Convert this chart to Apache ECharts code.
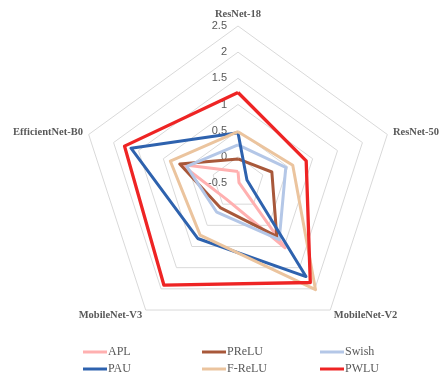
<!DOCTYPE html>
<html lang="en">
	<head>
		<meta charset="UTF-8" />
		<title>Radar</title>
		<style>
			html, body { margin: 0; padding: 0; background: #fff; }
		</style>
	</head>
	<body>
		<div id="main" style="width: 448px; height: 372px"></div>
		<script src="https://cdn.jsdelivr.net/npm/echarts@6/dist/echarts.min.js"></script>
		<script>
			// indicators, in the order echarts lays them out (counterclockwise from top)
			var models = ["ResNet-18", "EfficientNet-B0", "MobileNet-V3", "MobileNet-V2", "ResNet-50"];
			var seriesNames = ["APL", "PReLU", "Swish", "PAU", "F-ReLU", "PWLU"];
			var colors = ["#FFB0B0", "#A8583A", "#B4C7E7", "#2E62AE", "#EBC49E", "#EE2424"];

			// values per model, same order as models
			var apl = [-0.28, 0.64, -0.12, 1.03, -0.48];
			var prelu = [-0.04, 0.67, 0.08, 0.76, 0.18];
			var swish = [0.23, 0.53, 0.19, 0.84, 0.46];
			var pau = [0.46, 1.65, 0.81, 1.71, -0.32];
			var frelu = [0.48, 0.86, 0.73, 2.02, 0.6];
			var pwlu = [1.23, 1.78, 1.91, 1.85, 0.87];
			var allValues = [apl, prelu, swish, pau, frelu, pwlu];

			var axisMin = -0.5;
			var axisMax = 2.5;

			var myChart = echarts.init(document.getElementById("main"));

			var indicator = models.map(function (m, i) {
				var ind = { name: m, min: axisMin, max: axisMax };
				if (i === 0) {
					// only the top axis carries tick labels
					ind.axisLabel = {
						show: true,
						color: "#595959",
						fontSize: 11,
						fontFamily: "Liberation Sans",
						align: "right",
						margin: 11,
					};
				}
				return ind;
			});

			// legend: 3 columns x 2 rows, one legend per entry so columns line up
			var legendCols = [78, 197, 315];
			var legendRows = [341, 358];
			var legends = seriesNames.map(function (n, i) {
				return {
					left: legendCols[i % 3],
					top: legendRows[Math.floor(i / 3)],
					icon: "rect",
					itemWidth: 24,
					itemHeight: 3,
					data: [n],
					textStyle: {
						color: "#595959",
						fontSize: 12,
						fontFamily: "Liberation Serif",
						padding: [0, 0, 0, -4],
					},
				};
			});

			var option = {
				animation: false,
				color: colors,
				legend: legends,
				radar: {
					center: [238, 183],
					radius: 157,
					shape: "polygon",
					splitNumber: 6,
					nameGap: 6,
					indicator: indicator,
					axisName: {
						color: "#595959",
						fontSize: 10.5,
						fontWeight: "bold",
						fontFamily: "Liberation Serif",
					},
					axisLine: { show: false },
					axisTick: { show: false },
					axisLabel: { show: false },
					splitLine: { lineStyle: { color: "#D9D9D9", width: 1 } },
					splitArea: { show: false },
				},
				series: seriesNames.map(function (n, i) {
					return {
						name: n,
						type: "radar",
						symbol: "none",
						lineStyle: { width: i === 5 ? 3.3 : 3 },
						data: [{ name: n, value: allValues[i] }],
					};
				}),
			};

			myChart.setOption(option);
		</script>
	</body>
</html>
